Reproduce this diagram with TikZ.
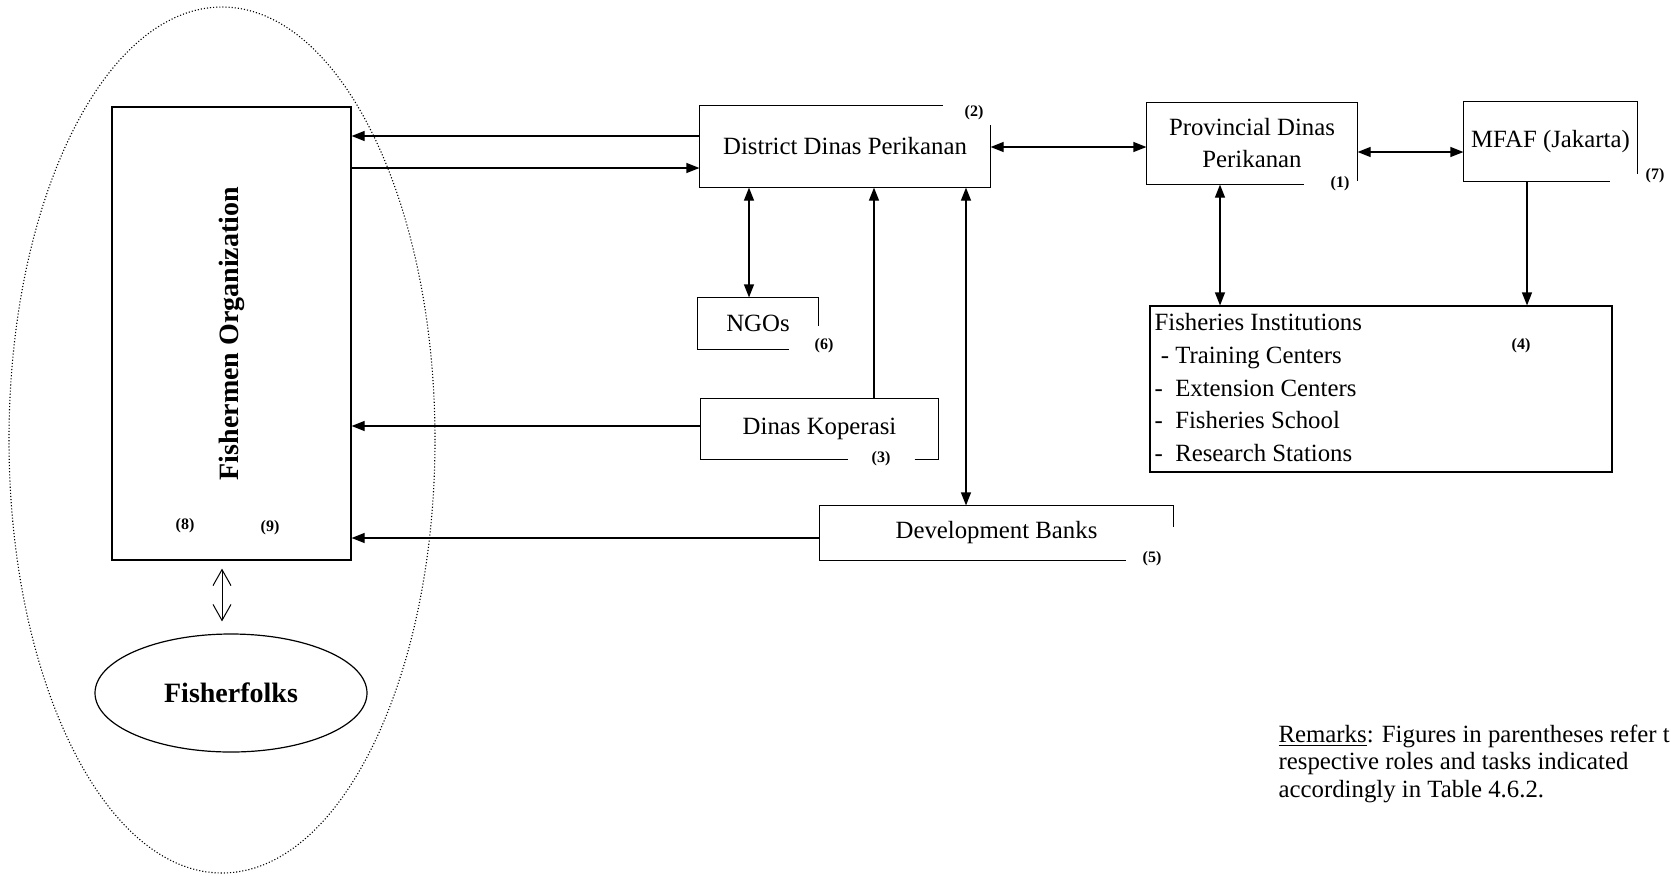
\documentclass[tikz,border=0pt]{standalone}
\usepackage{fontspec}
\setmainfont{Liberation Serif}
\usetikzlibrary{arrows.meta}
\usetikzlibrary{shapes.geometric}

\begin{document}
\begin{tikzpicture}[x=0.5pt,y=-0.5pt,line width=0.6pt,
  every node/.style={inner sep=0pt,font=\fontsize{12.4}{15}\selectfont},
  box/.style={rectangle},
  num/.style={font=\fontsize{8}{9}\selectfont\bfseries},
  arr/.style={-{Triangle[length=6.5pt,width=5pt]}},
  darr/.style={{Triangle[length=6.5pt,width=5pt]}-{Triangle[length=6.5pt,width=5pt]}}]
  \useasboundingbox (0,0) rectangle (1671,875);

  % left group
  \node[ellipse,draw,densely dotted,line width=0.55pt,minimum width=213pt,minimum height=433pt] (area) at (222,440) {};
  \node[box,draw,minimum width=119.5pt,minimum height=226.5pt] (org) at (231.5,333.5) {};
  \node[rotate=90,font=\fontsize{14}{16}\selectfont\bfseries] (orgname) at (org.center) {Fishermen Organization};
  \node[num] (n8) at (185,526) {(8)};
  \node[num] (n9) at (270,528) {(9)};
  \node[ellipse,draw,minimum width=136pt,minimum height=59pt,font=\fontsize{14}{16}\selectfont\bfseries] (folk) at (231,693) {Fisherfolks};

  % district level
  \node[box,minimum width=145pt,minimum height=40.5pt] (dist) at (845,146.5) {District Dinas Perikanan};
  \draw ([xshift=-24pt]dist.north east) -- (dist.north west) -- (dist.south west) -- (dist.south east) -- ([yshift=-10pt]dist.north east);
  \node[num] (n2) at (974,113) {(2)};
  \node[box,minimum width=60pt,minimum height=25.5pt] (ngo) at (758,323.5) {NGOs};
  \draw ([xshift=-15pt]ngo.south east) -- (ngo.south west) -- (ngo.north west) -- (ngo.north east) -- ([yshift=12pt]ngo.south east);
  \node[num] (n6) at (824,346) {(6)};
  \node[box,minimum width=118.5pt,minimum height=30pt] (kop) at (819.5,429) {Dinas Koperasi};
  \draw ([xshift=-12pt]kop.south east) -- (kop.south east) -- (kop.north east) -- (kop.north west) -- (kop.south west) -- ([xshift=74pt]kop.south west);
  \node[num] (n3) at (881,459) {(3)};
  \node[box,minimum width=176.5pt,minimum height=27pt] (bank) at (996.5,533) {Development Banks};
  \draw ([xshift=-24pt]bank.south east) -- (bank.south west) -- (bank.north west) -- (bank.north east) -- ([yshift=17pt]bank.south east);
  \node[num] (n5) at (1152,559) {(5)};

  % province and centre
  \node[box,align=center,minimum width=105pt,minimum height=40.5pt,font=\fontsize{12.4}{16}\selectfont] (prov) at (1252,143.5) {Provincial Dinas\\Perikanan};
  \draw ([xshift=-27pt]prov.south east) -- (prov.south west) -- (prov.north west) -- (prov.north east) -- ([yshift=2pt]prov.south east);
  \node[num] (n1) at (1340,184) {(1)};
  \node[box,minimum width=86.5pt,minimum height=39.5pt] (mfaf) at (1550.5,141.5) {MFAF (Jakarta)};
  \draw ([xshift=-14pt]mfaf.south east) -- (mfaf.south west) -- (mfaf.north west) -- (mfaf.north east) -- ([yshift=4pt]mfaf.south east);
  \node[num] (n7) at (1655,176) {(7)};
  \node[box,draw,minimum width=231pt,minimum height=83pt] (inst) at (1381,389) {};
  \node[anchor=north west,align=left,font=\fontsize{12.4}{16.3}\selectfont] (insttext) at (1154,313) {Fisheries Institutions\\\ - Training Centers\\-\ \ Extension Centers\\-\ \ Fisheries School\\-\ \ Research Stations};
  \node[num] (n4) at (1521,346) {(4)};

  \node[anchor=north west,align=left,font=\fontsize{12.4}{13.9}\selectfont] (remarks) at (1278,724) {\underline{Remarks}: Figures in parentheses refer t\\respective roles and tasks indicated\\accordingly in Table 4.6.2.};

  % connectors
  \draw[arr] (dist.west |- 0,136) -- (org.east |- 0,136);
  \draw[arr] (org.east |- 0,168) -- (dist.west |- 0,168);
  \draw[darr] (dist.east |- 0,147) -- (prov.west |- 0,147);
  \draw[darr] (prov.east |- 0,152) -- (mfaf.west |- 0,152);
  \draw[darr] (dist.south -| 749,0) -- (ngo.north -| 749,0);
  \draw[arr] (kop.north -| 874,0) -- (dist.south -| 874,0);
  \draw[darr] (dist.south -| 966,0) -- (bank.north -| 966,0);
  \draw[arr] (kop.west |- 0,426) -- (org.east |- 0,426);
  \draw[arr] (bank.west |- 0,538) -- (org.east |- 0,538);
  \draw[darr] (prov.south -| 1220,0) -- (inst.north -| 1220,0);
  \draw[arr] (mfaf.south -| 1527,0) -- (inst.north -| 1527,0);
  \draw[{Straight Barb[length=8pt,width=9pt]}-{Straight Barb[length=8pt,width=9pt]},line width=0.5pt,shorten <=4pt,shorten >=6pt] (org.south -| 222,0) -- (folk.north -| 222,0);
\end{tikzpicture}
\end{document}
